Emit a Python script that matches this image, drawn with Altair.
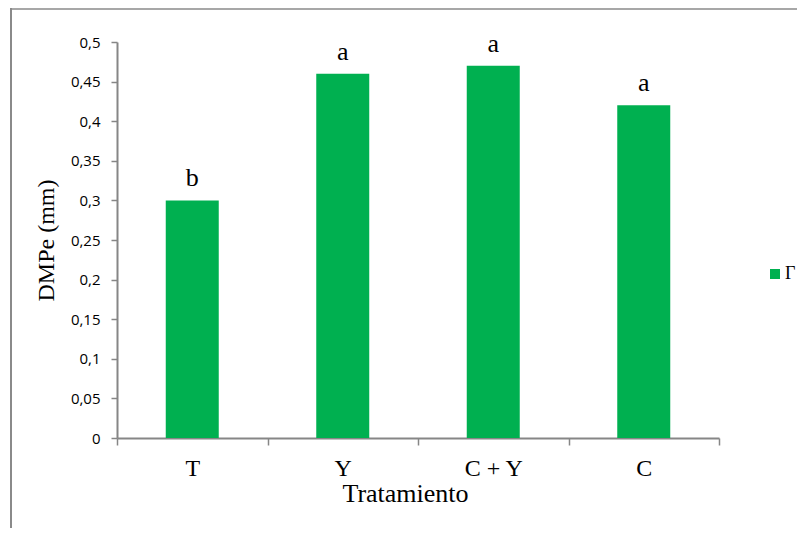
import altair as alt
import pandas as pd

categories = ["T", "Y", "C + Y", "C"]
values = [0.30, 0.46, 0.47, 0.42]
letters = ["b", "a", "a", "a"]
series_name = ["Γ", "Γ", "Γ", "Γ"]
y_ticks = [0, 0.05, 0.1, 0.15, 0.2, 0.25, 0.3, 0.35, 0.4, 0.45, 0.5]

df = pd.DataFrame({"cat": categories, "val": values, "lab": letters, "serie": series_name})

x_enc = alt.X(
    "cat:N", sort=categories, title="Tratamiento",
    scale=alt.Scale(paddingInner=0, paddingOuter=0),
    axis=alt.Axis(labelAngle=0, labelFont="Liberation Serif", labelFontSize=24,
                  labelColor="black", titleFont="Liberation Serif", titleFontSize=26,
                  titleFontWeight="normal", titleColor="black", tickBand="extent",
                  tickSize=7, labelPadding=11, titlePadding=0, titleX=288),
)
y_enc = alt.Y(
    "val:Q", title="DMPe (mm)", scale=alt.Scale(domain=[0, 0.5], nice=False),
    axis=alt.Axis(values=y_ticks, labelExpr="replace(format(datum.value, '~g'), '.', ',')",
                  labelFont="Open Sans", labelFontSize=15, labelColor="black",
                  labelOverlap=False, tickSize=6, labelPadding=11, grid=False,
                  titleFont="Liberation Serif", titleFontSize=24, titleFontWeight="normal",
                  titleColor="black", titlePadding=12),
)

bars = alt.Chart(df).mark_bar(size=53).encode(
    x=x_enc, y=y_enc,
    color=alt.Color("serie:N", scale=alt.Scale(range=["#00B050"]),
                    legend=alt.Legend(title=None, orient="none", legendX=649, legendY=223,
                                      symbolType="square", symbolSize=100,
                                      symbolStrokeWidth=0, labelFont="Liberation Serif",
                                      labelFontSize=18, labelColor="black", padding=0,
                                      labelOffset=1)),
)

text = alt.Chart(df).mark_text(font="Liberation Serif", fontSize=26, color="black",
                               baseline="alphabetic", dy=-14).encode(
    x=x_enc, y=y_enc, text="lab:N")

border_df = pd.DataFrame({"k": [0]})
top_line = alt.Chart(border_df).mark_rule(color="#8a8a8a", strokeWidth=1.5).encode(
    x=alt.value(-106), x2=alt.value(690), y=alt.value(-33), y2=alt.value(-33))
left_line = alt.Chart(border_df).mark_rule(color="#8a8a8a", strokeWidth=2).encode(
    x=alt.value(-106), x2=alt.value(-106), y=alt.value(-34), y2=alt.value(500))

chart = alt.layer(bars, text, top_line, left_line).properties(
    width=602, height=396,
    autosize=alt.AutoSizeParams(type="none"),
    padding={"left": 109, "top": 34, "right": 78, "bottom": 90},
).configure_view(stroke=None).configure_axis(
    domainColor="#868686", domainWidth=2, tickColor="#868686", tickWidth=1.5,
)

chart.save("out.html", embed_options={"renderer": "svg", "actions": False})
